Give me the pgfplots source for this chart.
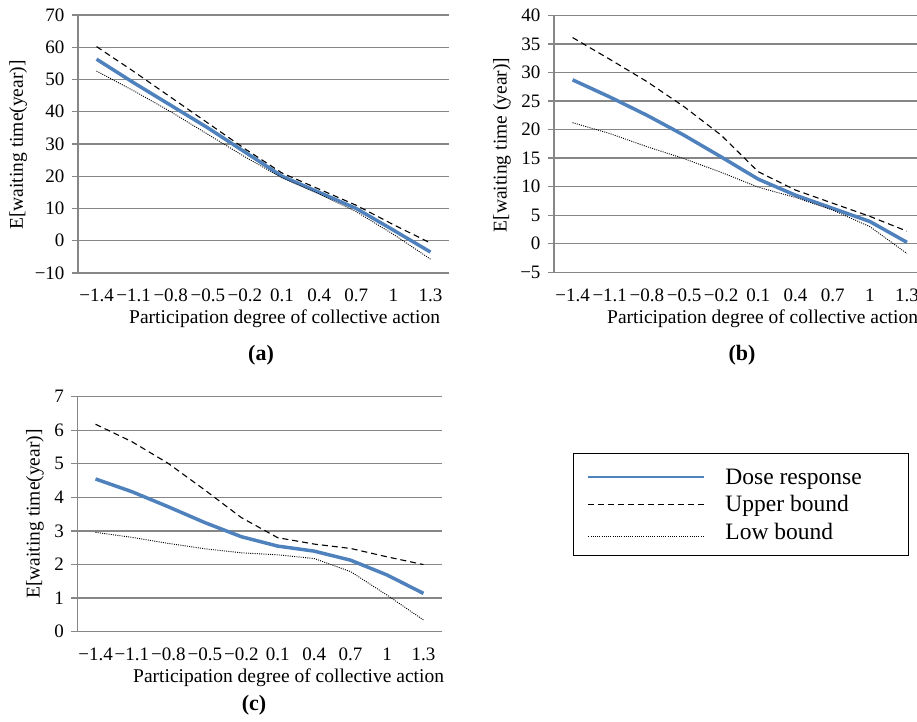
\documentclass[border=0pt]{standalone}
\usepackage{fontspec}
\setmainfont{Liberation Serif}
\usepackage{pgfplots}
\pgfplotsset{compat=1.18}
\definecolor{doseblue}{RGB}{79,129,189}
\definecolor{gridgray}{RGB}{134,134,134}
\newcommand\tickfont{\fontsize{19}{22}\selectfont}
\newcommand\labfont{\fontsize{19.5}{23}\selectfont}
\newcommand\legfont{\fontsize{23.5}{28}\selectfont}
\newcommand\titfont{\fontsize{22}{26}\selectfont\bfseries}
\pgfplotsset{panel/.style={
  scale only axis, anchor=south west,
  xmin=-0.5, xmax=9.5,
  xtick={0,...,9},
  xticklabels={−1.4,−1.1,−0.8,−0.5,−0.2,0.1,0.4,0.7,1,1.3},
  axis x line*=bottom, axis y line*=left,
  axis line style={gridgray, line width=1.3pt, -},
  ymajorgrids, grid style={gridgray, line width=1.3pt},
  tick align=outside, major tick length=6pt,
  xtick style={draw=none}, ytick style={gridgray, line width=1.3pt},
  ticklabel style={font=\tickfont},
  xticklabel style={anchor=base, yshift=-23pt},
  yticklabel style={xshift=-4pt},
},
dose/.style={doseblue, line width=3.5pt, line join=round, no marks,
  legend image code/.code={\draw[##1, line width=2pt] (0pt,0pt) -- (116pt,0pt);}},
upper/.style={black, line width=1.1pt, dash pattern=on 6pt off 4pt, no marks,
  legend image code/.code={\draw[##1] (0pt,0pt) -- (116pt,0pt);}},
low/.style={black, line width=0.9pt, dash pattern=on 1pt off 1.2pt, no marks,
  legend image code/.code={\draw[##1] (0pt,-5pt) -- (116pt,-5pt);}},
}
\begin{document}
\begin{tikzpicture}
% (a)
\begin{axis}[panel, at={(78pt,448pt)}, width=371pt, height=258pt,
  ymin=-10, ymax=70, ytick={-10,0,...,70},
  yticklabels={−10,0,10,20,30,40,50,60,70}]
\addplot[dose] coordinates {(0,56.3)(1,49)(2,42)(3,35)(4,27.5)(5,20)(6,15)(7,10)(8,3.3)(9,-3.5)};
\addplot[upper] coordinates {(0,60.2)(1,52.5)(2,44.5)(3,36.5)(4,28.5)(5,21)(6,16)(7,11)(8,5)(9,-0.7)};
\addplot[low] coordinates {(0,52.6)(1,46.5)(2,40)(3,33)(4,26)(5,19.5)(6,14.5)(7,9)(8,2)(9,-5.7)};
\end{axis}
% (b)
\begin{axis}[panel, at={(554pt,448.7pt)}, width=371.5pt, height=257pt,
  ymin=-5, ymax=40, ytick={-5,0,...,40},
  yticklabels={−5,0,5,10,15,20,25,30,35,40}]
\addplot[dose] coordinates {(0,28.7)(1,25.7)(2,22.5)(3,19.0)(4,15.2)(5,11.3)(6,8.5)(7,6.2)(8,3.9)(9,0.25)};
\addplot[upper] coordinates {(0,36.1)(1,32.3)(2,28.4)(3,24.0)(4,19.0)(5,12.6)(6,9.4)(7,7.1)(8,4.8)(9,2.2)};
\addplot[low] coordinates {(0,21.2)(1,19.3)(2,17.0)(3,14.9)(4,12.5)(5,9.9)(6,8.1)(7,5.9)(8,3.0)(9,-1.7)};
\end{axis}
% (c)
\begin{axis}[panel, at={(77.3pt,89.3pt)}, width=364.4pt, height=235pt,
  ymin=0, ymax=7, ytick={0,...,7},
  yticklabels={0,1,2,3,4,5,6,7},
  legend cell align=left,
  legend style={at={(axis description cs:1.3603,0.7617)}, anchor=north west,
    draw=black, line width=0.9pt, inner xsep=14pt, inner ysep=11.5pt,
    font=\legfont, row sep=2.6pt,
    nodes={inner sep=0pt, text height=20pt, text depth=4.6pt},
    /tikz/every odd column/.append style={column sep=20pt}}]
\addplot[dose] coordinates {(0,4.55)(1,4.17)(2,3.72)(3,3.25)(4,2.83)(5,2.55)(6,2.40)(7,2.13)(8,1.69)(9,1.14)};
\addlegendentry{\makebox[169pt][l]{Dose response}}
\addplot[upper] coordinates {(0,6.18)(1,5.66)(2,5.01)(3,4.22)(4,3.40)(5,2.80)(6,2.61)(7,2.48)(8,2.23)(9,2.00)};
\addlegendentry{\makebox[169pt][l]{Upper bound}}
\addplot[low] coordinates {(0,2.96)(1,2.81)(2,2.63)(3,2.47)(4,2.35)(5,2.29)(6,2.18)(7,1.79)(8,1.09)(9,0.35)};
\addlegendentry{\makebox[169pt][l]{Low bound}}
\end{axis}
% labels
\node[font=\labfont, rotate=90, inner sep=0pt] at (18.3pt,576pt) {E[waiting time(year)]};
\node[font=\labfont, rotate=90, inner sep=0pt] at (502pt,576pt) {E[waiting time (year)]};
\node[font=\labfont, rotate=90, inner sep=0pt] at (35pt,207pt) {E[waiting time(year)]};
\node[font=\labfont, anchor=base west, inner sep=0pt] at (129pt,397pt) {Participation degree of collective action};
\node[font=\labfont, anchor=base west, inner sep=0pt] at (607pt,397pt) {Participation degree of collective action};
\node[font=\labfont, anchor=base west, inner sep=0pt] at (133pt,38.3pt) {Participation degree of collective action};
\node[font=\titfont, inner sep=0pt] at (261pt,366pt) {(a)};
\node[font=\titfont, inner sep=0pt] at (742pt,366pt) {(b)};
\node[font=\titfont, inner sep=0pt] at (254pt,16pt) {(c)};
\pgfresetboundingbox
\path[use as bounding box] (0,0) rectangle (917pt,721pt);
\end{tikzpicture}
\end{document}
